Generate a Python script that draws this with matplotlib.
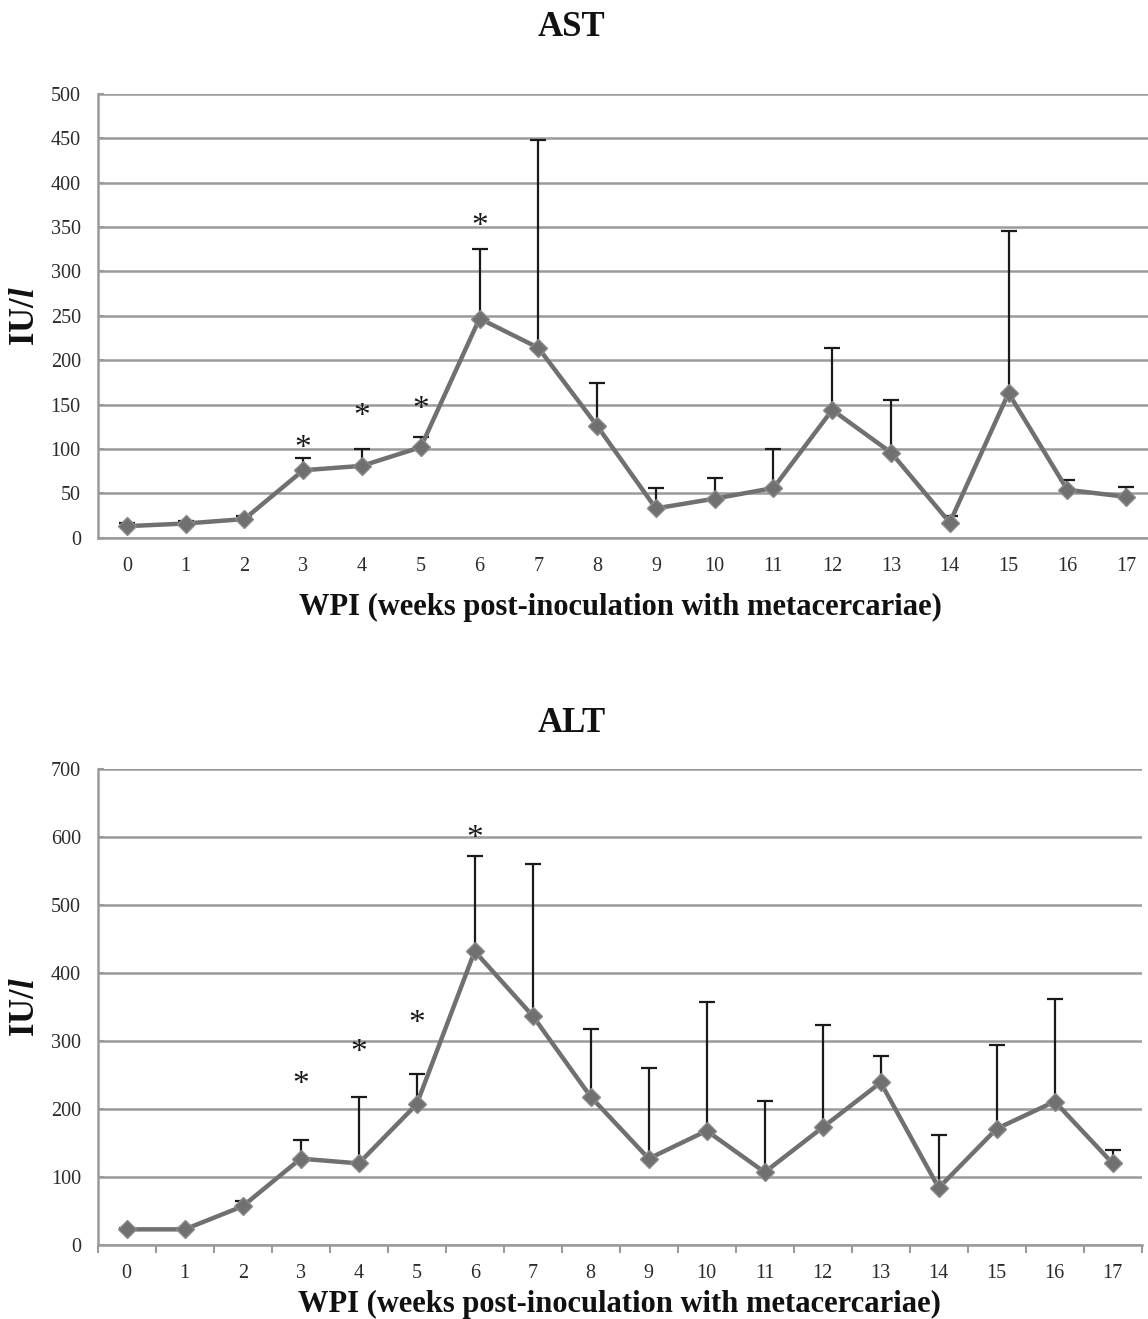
import numpy as np
import matplotlib
matplotlib.use("Agg")
import matplotlib.pyplot as plt
from matplotlib.ticker import MultipleLocator, FixedLocator

plt.rcParams['font.family'] = ['Liberation Serif', 'DejaVu Serif']
plt.rcParams['mathtext.fontset'] = 'custom'
plt.rcParams['mathtext.rm'] = 'Liberation Serif'
plt.rcParams['mathtext.bf'] = 'Liberation Serif:bold'
plt.rcParams['mathtext.it'] = 'Liberation Serif:italic:bold'

weeks = list(range(18))

# AST (IU/l), mean and upper error
ast_mean = [13, 16, 21, 76, 81, 102, 247, 214, 126, 33, 44, 56, 144, 96, 17, 163, 54, 46]
ast_err_top = [17, 19, 24, 90, 100, 114, 325, 448, 174, 56, 67, 100, 214, 155, 25, 346, 65, 57]
ast_star_weeks = [3, 4, 5, 6]
ast_star_y = [100, 136, 144, 350]

# ALT (IU/l), mean and upper error
alt_mean = [23, 23, 57, 127, 120, 207, 432, 337, 218, 127, 168, 107, 173, 239, 84, 171, 211, 120]
alt_err_top = [25, 25, 64, 155, 217, 252, 572, 560, 318, 260, 358, 212, 323, 278, 162, 294, 362, 139]
alt_star_weeks = [3, 4, 5, 6]
alt_star_y = [236, 282, 325, 598]

GRID = '#9a9a9a'
LINE = '#707070'
TXT = '#2b2b2b'


def panel(ax, mean, top, star_w, star_y, ymax, ystep, ticks_out):
    x = np.array(weeks)
    mean = np.array(mean)
    up = np.array(top) - mean
    ax.errorbar(x, mean, yerr=[np.zeros_like(up), up], fmt='none',
                ecolor='#1a1a1a', elinewidth=1.6, capsize=6, capthick=1.6, zorder=2)
    ax.plot(x, mean, color=LINE, linewidth=3.2, marker='D', markersize=9,
            markerfacecolor=LINE, markeredgecolor='#8a8a8a', zorder=3)
    for w, s in zip(star_w, star_y):
        ax.text(w, s, '*', ha='center', va='center', fontsize=24,
                color='#1a1a1a', zorder=4)
    ax.set_xlim(-0.5, 17.5)
    ax.set_ylim(0, ymax)
    ax.yaxis.set_major_locator(MultipleLocator(ystep))
    ax.grid(axis='y', color=GRID, linewidth=1.8)
    ax.set_axisbelow(True)
    for s in ['top', 'right']:
        ax.spines[s].set_visible(False)
    for s in ['left', 'bottom']:
        ax.spines[s].set_color(GRID)
        ax.spines[s].set_linewidth(1.8)
    ax.set_xticks(x)
    ax.set_xticklabels([str(w) for w in weeks])
    ax.tick_params(axis='x', length=0, pad=14, labelsize=14.5, labelcolor=TXT)
    ax.tick_params(axis='y', length=4, width=1.5, color=GRID, direction='in',
                   pad=12, labelsize=14.5, labelcolor=TXT)
    if ticks_out:
        ax.xaxis.set_minor_locator(FixedLocator(np.arange(-0.5, 18, 1)))
        ax.tick_params(axis='x', which='minor', length=6, width=1.5, color=GRID,
                       direction='out')
    ax.set_xlabel('WPI (weeks post-inoculation with metacercariae)',
                  fontsize=22, fontweight='bold', color='#111111')
    ax.set_ylabel(r'$\mathbf{IU/}\mathit{l}$', fontsize=25, color='#111111')


fig = plt.figure(figsize=(11.48, 13.19), dpi=100)

ax1 = fig.add_axes([97.5 / 1148, 1 - 537.7 / 1319, 1058 / 1148, 443.7 / 1319])
panel(ax1, ast_mean, ast_err_top, ast_star_weeks, ast_star_y, 500, 50, False)
ax1.xaxis.set_label_coords((620 - 97.5) / 1058, -0.124)
ax1.yaxis.set_label_coords(-0.052, 0.5)

ax2 = fig.add_axes([97.7 / 1148, 1 - 1245 / 1319, 1044 / 1148, 476 / 1319])
panel(ax2, alt_mean, alt_err_top, alt_star_weeks, alt_star_y, 700, 100, True)
ax2.xaxis.set_label_coords(0.5, -0.094)
ax2.yaxis.set_label_coords(-0.053, 0.5)

fig.text(571 / 1148, 1 - 27 / 1319, 'AST', ha='center', va='center',
         fontsize=25, fontweight='bold', color='#111111')
fig.text(572 / 1148, 1 - 723 / 1319, 'ALT', ha='center', va='center',
         fontsize=25, fontweight='bold', color='#111111')

fig.savefig('out.png', dpi=100)
